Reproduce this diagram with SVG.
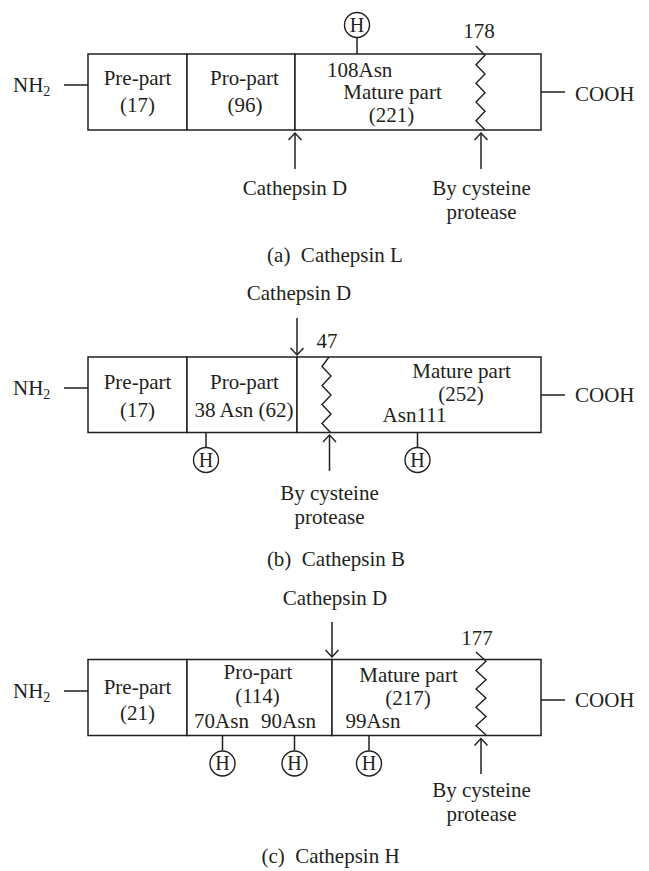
<svg xmlns="http://www.w3.org/2000/svg" width="649" height="871" viewBox="0 0 649 871">
<style>
text{font-family:"Liberation Serif","Times New Roman",serif;font-size:21px;fill:#231f20}
.m{text-anchor:middle}
.h{font-size:20px;text-anchor:middle}
.sub{font-size:14px}
.cap{white-space:pre;text-anchor:middle}
.box{fill:#fff;stroke:#231f20;stroke-width:1.5}
.ln{fill:none;stroke:#231f20;stroke-width:1.5}
.ar{fill:none;stroke:#231f20;stroke-width:1.5;marker-end:url(#arr)}
.zz{fill:none;stroke:#231f20;stroke-width:1.4;stroke-linejoin:miter}
.hc{fill:#fff;stroke:#231f20;stroke-width:1.4}
</style>
<defs>
<marker id="arr" markerUnits="userSpaceOnUse" markerWidth="20" markerHeight="20" viewBox="-10 -10 20 20" refX="0" refY="0" orient="auto" overflow="visible">
<path d="M-7,-6.5 L0,0 L-7,6.5" fill="none" stroke="#231f20" stroke-width="1.4"/>
</marker>
</defs>

<!-- connectors -->
<g id="connectors">
<!-- (a) -->
<line class="ln" x1="64" y1="85" x2="88" y2="85"/>
<line class="ln" x1="541" y1="92" x2="565" y2="92"/>
<line class="ln" x1="357" y1="37.5" x2="357" y2="54"/>
<line class="ar" x1="295" y1="169" x2="295" y2="133"/>
<line class="ar" x1="481" y1="169" x2="481" y2="133"/>
<!-- (b) -->
<line class="ln" x1="64" y1="388" x2="88" y2="388"/>
<line class="ln" x1="541" y1="395" x2="565" y2="395"/>
<line class="ar" x1="297" y1="318" x2="297" y2="355"/>
<line class="ar" x1="329.5" y1="471" x2="329.5" y2="435"/>
<line class="ln" x1="206" y1="432.5" x2="206" y2="447.5"/>
<line class="ln" x1="417.5" y1="432.5" x2="417.5" y2="447.5"/>
<!-- (c) -->
<line class="ln" x1="64" y1="691" x2="88" y2="691"/>
<line class="ln" x1="541" y1="700" x2="565" y2="700"/>
<line class="ar" x1="332" y1="622" x2="332" y2="657"/>
<line class="ar" x1="481" y1="774" x2="481" y2="738.5"/>
<line class="ln" x1="222.5" y1="735.5" x2="222.5" y2="750.5"/>
<line class="ln" x1="294.5" y1="735.5" x2="294.5" y2="750.5"/>
<line class="ln" x1="369" y1="735.5" x2="369" y2="750.5"/>
</g>

<!-- ===== (a) Cathepsin L ===== -->
<g id="a-nh2"><text x="13" y="92">NH<tspan class="sub" dy="4">2</tspan></text></g>
<g id="a-cooh"><text x="575" y="101">COOH</text></g>
<g id="a-pre">
<rect class="box" x="88" y="54" width="99" height="76"/>
<text class="m" x="137.5" y="85">Pre-part</text>
<text class="m" x="137.5" y="112">(17)</text>
</g>
<g id="a-pro">
<rect class="box" x="187" y="54" width="108" height="76"/>
<text class="m" x="244.5" y="85">Pro-part</text>
<text class="m" x="245" y="112">(96)</text>
</g>
<g id="a-mature">
<rect class="box" x="295" y="54" width="246" height="76"/>
<text x="327" y="77">108Asn</text>
<text class="m" x="392.5" y="99">Mature part</text>
<text class="m" x="391.5" y="121.5">(221)</text>
<polyline class="zz" points="476,46 485,55.3 476,64.7 485,74 476,83.3 485,92.7 476,102 485,111.3 476,120.7 485,130"/>
<text class="m" x="479" y="38">178</text>
</g>
<g id="a-h"><circle class="hc" cx="357" cy="25" r="12.5"/><text class="h" x="357" y="31.8">H</text></g>
<g id="a-catd"><text class="m" x="295" y="195">Cathepsin D</text></g>
<g id="a-cys"><text class="m" x="481.5" y="195">By cysteine</text><text class="m" x="481.5" y="218.5">protease</text></g>
<g id="a-cap"><text class="cap" x="335" y="262">(a)  Cathepsin L</text></g>

<!-- ===== (b) Cathepsin B ===== -->
<g id="b-catd"><text class="m" x="299" y="300">Cathepsin D</text></g>
<g id="b-nh2"><text x="13" y="395">NH<tspan class="sub" dy="4">2</tspan></text></g>
<g id="b-cooh"><text x="575" y="401.5">COOH</text></g>
<g id="b-pre">
<rect class="box" x="88" y="357" width="99" height="75.5"/>
<text class="m" x="137.5" y="389">Pre-part</text>
<text class="m" x="137.5" y="417">(17)</text>
</g>
<g id="b-pro">
<rect class="box" x="187" y="357" width="110" height="75.5"/>
<text class="m" x="244.5" y="389">Pro-part</text>
<text class="m" x="244" y="417">38 Asn (62)</text>
</g>
<g id="b-mature">
<rect class="box" x="297" y="357" width="244" height="75.5"/>
<polyline class="zz" points="329,357 322,366.5 331,376 322,385.5 331,395 322,404.5 331,414 322,423.5 331,433"/>
<text class="m" x="327" y="348">47</text>
<text class="m" x="461.5" y="378">Mature part</text>
<text class="m" x="461" y="401">(252)</text>
<text class="m" x="414.5" y="421.5">Asn111</text>
</g>
<g id="b-h1"><circle class="hc" cx="206" cy="460" r="12.5"/><text class="h" x="206" y="466.8">H</text></g>
<g id="b-h2"><circle class="hc" cx="417.5" cy="460" r="12.5"/><text class="h" x="417.5" y="466.8">H</text></g>
<g id="b-cys"><text class="m" x="329.5" y="500">By cysteine</text><text class="m" x="329.5" y="523.5">protease</text></g>
<g id="b-cap"><text class="cap" x="336" y="566">(b)  Cathepsin B</text></g>

<!-- ===== (c) Cathepsin H ===== -->
<g id="c-catd"><text class="m" x="335" y="605">Cathepsin D</text></g>
<g id="c-nh2"><text x="13" y="698">NH<tspan class="sub" dy="4">2</tspan></text></g>
<g id="c-cooh"><text x="575" y="707">COOH</text></g>
<g id="c-pre">
<rect class="box" x="88" y="659.5" width="99" height="76"/>
<text class="m" x="137.5" y="694">Pre-part</text>
<text class="m" x="137.5" y="720">(21)</text>
</g>
<g id="c-pro">
<rect class="box" x="187" y="659.5" width="145" height="76"/>
<text class="m" x="258" y="678.5">Pro-part</text>
<text class="m" x="257.5" y="703">(114)</text>
<text class="m" x="221.5" y="727.5">70Asn</text>
<text class="m" x="288.5" y="727.5">90Asn</text>
</g>
<g id="c-mature">
<rect class="box" x="332" y="659.5" width="209" height="76"/>
<text class="m" x="408.5" y="682">Mature part</text>
<text class="m" x="408" y="705">(217)</text>
<text class="m" x="373" y="727.5">99Asn</text>
<polyline class="zz" points="476,652 486,661.2 476,670.4 486,679.7 476,688.9 486,698.1 476,707.3 486,716.6 476,725.8 486,735"/>
<text class="m" x="477" y="645">177</text>
</g>
<g id="c-h1"><circle class="hc" cx="222.5" cy="763.5" r="12.5"/><text class="h" x="222.5" y="770.3">H</text></g>
<g id="c-h2"><circle class="hc" cx="294.5" cy="763.5" r="12.5"/><text class="h" x="294.5" y="770.3">H</text></g>
<g id="c-h3"><circle class="hc" cx="369" cy="763.5" r="12.5"/><text class="h" x="369" y="770.3">H</text></g>
<g id="c-cys"><text class="m" x="481.5" y="797">By cysteine</text><text class="m" x="481.5" y="820.5">protease</text></g>
<g id="c-cap"><text class="cap" x="330.5" y="863">(c)  Cathepsin H</text></g>
</svg>
